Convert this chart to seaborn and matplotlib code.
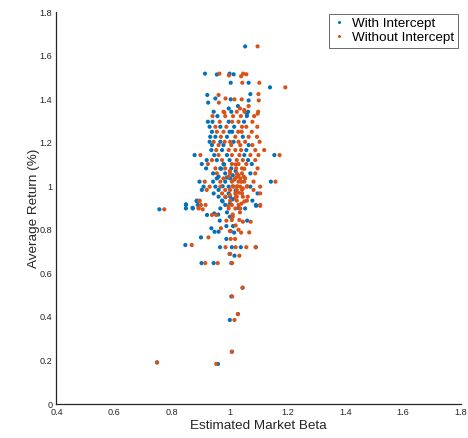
import matplotlib
matplotlib.use("Agg")
import matplotlib.pyplot as plt
from matplotlib.lines import Line2D
import seaborn as sns
import pandas as pd

# ---- data (Estimated beta, average return %) ----
with_beta = [
    1.053, 0.914, 0.955, 0.999, 1.013, 1.003, 1.065, 1.139, 0.922, 1.071,
    0.925, 0.950, 1.003, 1.065, 0.944, 0.996, 1.028, 1.059, 1.005, 1.063,
    0.957, 1.059, 0.924, 0.940, 0.996, 1.049, 0.930, 0.967, 1.015, 0.938,
    0.999, 1.008, 0.932, 0.950, 0.990, 1.045, 0.930, 0.967, 1.013, 0.938,
    0.978, 1.065, 0.936, 0.973, 1.057, 0.878, 0.946, 0.990, 1.050, 1.154,
    0.920, 0.955, 0.999, 1.063, 0.903, 0.978, 1.076, 0.918, 0.967, 1.005,
    0.942, 0.984, 1.071, 0.955, 1.001, 0.961, 0.895, 0.942, 0.984, 1.142,
    0.909, 0.950, 0.996, 1.071, 0.903, 0.961, 0.944, 0.996, 1.096, 0.961,
    1.001, 0.886, 0.973, 1.078, 0.848, 0.889, 0.984, 1.090, 0.848, 0.872,
    0.967, 1.053, 0.756, 0.848, 0.885, 0.871, 0.921, 0.946, 0.965, 1.060,
    0.936, 0.947, 0.961, 0.900, 0.846, 0.966, 1.007, 1.038, 1.090, 0.999,
    1.016, 0.902, 0.944, 1.005, 0.988, 1.003, 1.011, 0.988, 1.015, 1.091,
    1.044, 1.005, 1.028, 1.000, 1.007, 0.959, 0.748,
    0.975, 0.985, 1.000, 0.990, 1.010, 0.970, 1.020, 0.980, 1.000, 0.960,
    1.030, 0.990, 1.010, 0.975, 1.020,
]
with_ret = [
    1.642, 1.517, 1.513, 1.517, 1.514, 1.475, 1.475, 1.454, 1.419, 1.423,
    1.384, 1.403, 1.399, 1.394, 1.342, 1.357, 1.368, 1.333, 1.342, 1.342,
    1.322, 1.322, 1.296, 1.296, 1.296, 1.296, 1.273, 1.273, 1.273, 1.250,
    1.250, 1.250, 1.227, 1.227, 1.227, 1.227, 1.204, 1.204, 1.204, 1.189,
    1.189, 1.189, 1.166, 1.166, 1.166, 1.143, 1.143, 1.143, 1.143, 1.143,
    1.120, 1.120, 1.120, 1.120, 1.102, 1.102, 1.102, 1.082, 1.082, 1.082,
    1.059, 1.059, 1.059, 1.036, 1.036, 1.044, 1.021, 1.021, 1.021, 1.021,
    0.998, 0.998, 0.998, 0.998, 0.983, 0.983, 0.967, 0.967, 0.967, 0.952,
    0.952, 0.934, 0.934, 0.934, 0.914, 0.914, 0.914, 0.914, 0.898, 0.898,
    0.898, 0.898, 0.894, 0.917, 0.932, 0.901, 0.868, 0.875, 0.842, 0.842,
    0.807, 0.791, 0.791, 0.765, 0.730, 0.720, 0.720, 0.720, 0.720, 0.689,
    0.681, 0.647, 0.647, 0.647, 0.758, 0.794, 0.817, 0.817, 0.787, 0.910,
    0.534, 0.494, 0.413, 0.386, 0.240, 0.184, 0.191,
    1.000, 0.950, 0.920, 0.880, 1.050, 1.080, 0.980, 1.100, 0.860, 0.870,
    0.900, 1.040, 0.940, 0.930, 1.070,
]

without_beta = [
    1.096, 0.964, 0.997, 1.046, 1.057, 1.039, 1.043, 1.102, 1.192, 0.961,
    1.099, 0.962, 0.985, 1.016, 1.041, 1.100, 0.981, 1.035, 1.065, 1.050,
    1.096, 0.978, 1.024, 1.051, 1.098, 0.940, 0.984, 1.011, 1.038, 1.084,
    0.965, 1.008, 1.030, 1.078, 0.950, 0.988, 1.042, 1.057, 1.095, 0.955,
    0.978, 1.029, 1.041, 1.076, 0.969, 1.019, 1.065, 1.094, 0.944, 0.982,
    1.001, 1.030, 1.053, 1.103, 0.961, 1.005, 1.036, 1.078, 0.953, 0.996,
    1.019, 1.039, 1.088, 1.119, 0.898, 0.961, 1.007, 1.033, 1.071, 1.099,
    1.172, 0.938, 0.973, 1.024, 1.045, 1.088, 0.924, 1.007, 1.030, 1.057,
    0.950, 0.984, 1.022, 1.042, 1.096, 0.955, 1.001, 1.024, 1.042, 1.088,
    0.978, 1.019, 1.036, 1.053, 0.996, 1.025, 1.048,
    0.913, 0.967, 1.007, 1.030, 1.050, 1.082, 1.158, 0.930, 0.967, 1.013,
    1.036, 1.059, 1.105, 0.920, 0.984, 1.001, 1.024, 1.042, 1.082, 0.973,
    1.019, 1.042, 1.105, 0.984, 1.024, 1.045, 1.062, 0.895, 1.001, 1.024,
    1.059, 0.900, 0.916, 1.007, 1.030, 1.105, 0.892, 0.996, 1.019, 1.036,
    0.773, 0.895, 0.906, 0.892, 0.938, 0.953, 0.988, 1.007, 1.033, 1.045,
    1.072, 0.969, 0.926, 0.868, 0.985, 1.020, 1.057, 1.089, 1.001, 1.033,
    0.915, 0.958, 1.008, 1.003, 1.018, 1.000, 1.030, 1.067, 1.039, 1.105,
    1.044, 1.008, 1.028, 1.016, 1.007, 0.953, 0.748,
    1.010, 1.020, 1.030, 1.040, 1.010, 1.050, 1.020, 1.000, 1.035, 1.015,
    1.045, 0.995, 1.025, 1.040, 1.050, 1.000, 1.030, 1.060, 1.010, 1.020,
]
without_ret = [
    1.642, 1.517, 1.509, 1.517, 1.514, 1.505, 1.475, 1.475, 1.454, 1.419,
    1.423, 1.384, 1.403, 1.399, 1.399, 1.394, 1.339, 1.357, 1.368, 1.350,
    1.333, 1.342, 1.342, 1.342, 1.342, 1.322, 1.322, 1.322, 1.322, 1.322,
    1.296, 1.296, 1.296, 1.296, 1.273, 1.273, 1.273, 1.273, 1.273, 1.250,
    1.250, 1.250, 1.250, 1.250, 1.227, 1.227, 1.227, 1.227, 1.204, 1.204,
    1.204, 1.204, 1.204, 1.204, 1.189, 1.189, 1.189, 1.189, 1.166, 1.166,
    1.166, 1.166, 1.166, 1.166, 1.143, 1.143, 1.143, 1.143, 1.143, 1.143,
    1.143, 1.120, 1.120, 1.120, 1.120, 1.120, 1.102, 1.102, 1.102, 1.102,
    1.082, 1.082, 1.082, 1.082, 1.082, 1.059, 1.059, 1.059, 1.059, 1.059,
    1.036, 1.036, 1.036, 1.036, 1.044, 1.044, 1.044,
    1.021, 1.021, 1.021, 1.021, 1.021, 1.021, 1.021, 0.998, 0.998, 0.998,
    0.998, 0.998, 0.998, 0.983, 0.983, 0.983, 0.983, 0.983, 0.983, 0.967,
    0.967, 0.967, 0.967, 0.952, 0.952, 0.952, 0.952, 0.934, 0.934, 0.934,
    0.934, 0.914, 0.914, 0.914, 0.914, 0.914, 0.898, 0.898, 0.898, 0.898,
    0.894, 0.932, 0.894, 0.901, 0.868, 0.868, 0.842, 0.845, 0.845, 0.837,
    0.837, 0.807, 0.765, 0.730, 0.720, 0.720, 0.720, 0.720, 0.689, 0.681,
    0.647, 0.647, 0.647, 0.758, 0.758, 0.794, 0.800, 0.788, 0.787, 0.910,
    0.534, 0.494, 0.413, 0.386, 0.240, 0.184, 0.191,
    1.000, 0.950, 1.050, 0.920, 0.870, 1.080, 1.100, 0.960, 0.880, 1.030,
    0.990, 0.910, 1.000, 1.020, 0.930, 1.070, 0.970, 1.000, 0.860, 0.820,
]

series_names = ["With Intercept", "Without Intercept"]
colors = ["#0072BD", "#D95319"]
x_ticks = [0.4, 0.6, 0.8, 1.0, 1.2, 1.4, 1.6, 1.8]
y_ticks = [0, 0.2, 0.4, 0.6, 0.8, 1.0, 1.2, 1.4, 1.6, 1.8]

df = pd.concat([
    pd.DataFrame({"beta": with_beta, "ret": with_ret, "series": series_names[0]}),
    pd.DataFrame({"beta": without_beta, "ret": without_ret, "series": series_names[1]}),
], ignore_index=True)

sns.set_style("white")
plt.rcParams["font.family"] = ["Liberation Sans", "DejaVu Sans"]

fig = plt.figure(figsize=(4.68, 4.38), dpi=100)
ax = fig.add_axes([0.1207, 0.0776, 0.8643, 0.895])

sns.scatterplot(data=df, x="beta", y="ret", hue="series",
                palette=dict(zip(series_names, colors)),
                s=9, linewidth=0, alpha=1, legend=False, ax=ax)

ax.set_xlim(0.4, 1.8)
ax.set_ylim(0, 1.8)
ax.set_xticks(x_ticks)
ax.set_yticks(y_ticks)
ax.set_xticklabels([f"{v:g}" for v in x_ticks])
ax.set_yticklabels([f"{v:g}" for v in y_ticks])

txt = "#262626"
ax.tick_params(axis="both", direction="in", length=2.5, width=0.8,
               colors=txt, labelsize=6.6, pad=3)
for side in ["top", "right"]:
    ax.spines[side].set_visible(False)
for side in ["left", "bottom"]:
    ax.spines[side].set_color(txt)
    ax.spines[side].set_linewidth(0.9)

ax.set_xlabel("Estimated Market Beta", fontsize=9.7, color=txt, labelpad=2)
ax.set_ylabel("Average Return (%)", fontsize=9.7, color=txt)
ax.yaxis.set_label_coords(-0.04, 0.5)

handles = [Line2D([], [], marker="o", linestyle="none", markersize=2.2,
                  markerfacecolor=c, markeredgewidth=0) for c in colors]
leg = ax.legend(handles, series_names, loc="upper right",
                bbox_to_anchor=(0.9925, 0.995), fontsize=9.7, frameon=True,
                fancybox=False, borderpad=0.25, handlelength=1.0,
                handletextpad=0.5, labelspacing=0.15, borderaxespad=0)
leg.get_frame().set_edgecolor("#262626")
leg.get_frame().set_linewidth(0.6)
for t in leg.get_texts():
    t.set_color("black")

fig.savefig("out.png", dpi=100)
